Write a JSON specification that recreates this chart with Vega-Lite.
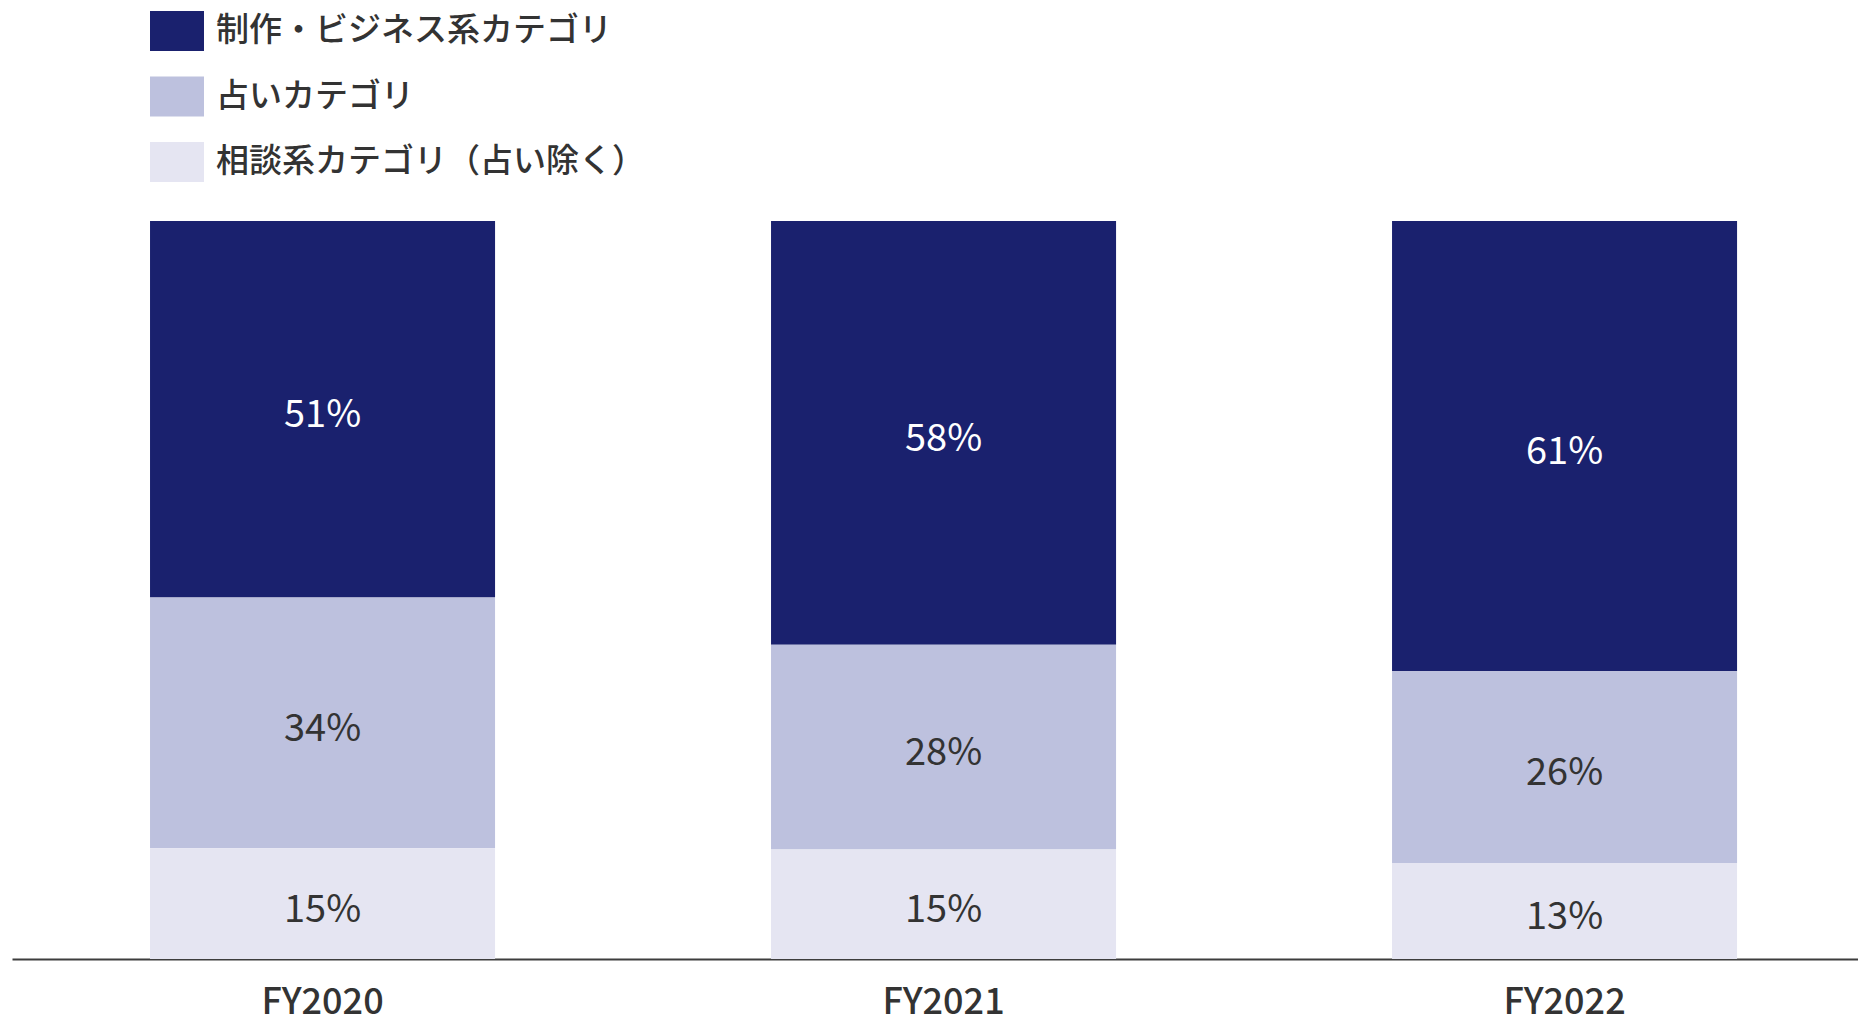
{
  "$schema": "https://vega.github.io/schema/vega-lite/v6.json",
  "autosize": {"type": "none"},
  "width": 1846,
  "height": 738,
  "padding": {"left": 12, "top": 221, "right": 0, "bottom": 58},
  "background": "white",
  "config": {
    "view": {"stroke": null},
    "font": "Noto Sans CJK JP"
  },
  "data": {
    "values": [
      {"year": "FY2020", "category": "制作・ビジネス系カテゴリ", "value": 51, "label": "51%", "rank": 3},
      {"year": "FY2020", "category": "占いカテゴリ", "value": 34, "label": "34%", "rank": 2},
      {"year": "FY2020", "category": "相談系カテゴリ（占い除く）", "value": 15, "label": "15%", "rank": 1},
      {"year": "FY2021", "category": "制作・ビジネス系カテゴリ", "value": 58, "label": "58%", "rank": 3},
      {"year": "FY2021", "category": "占いカテゴリ", "value": 28, "label": "28%", "rank": 2},
      {"year": "FY2021", "category": "相談系カテゴリ（占い除く）", "value": 15, "label": "15%", "rank": 1},
      {"year": "FY2022", "category": "制作・ビジネス系カテゴリ", "value": 61, "label": "61%", "rank": 3},
      {"year": "FY2022", "category": "占いカテゴリ", "value": 26, "label": "26%", "rank": 2},
      {"year": "FY2022", "category": "相談系カテゴリ（占い除く）", "value": 13, "label": "13%", "rank": 1}
    ]
  },
  "encoding": {
    "x": {
      "field": "year",
      "type": "nominal",
      "sort": null,
      "scale": {"paddingInner": 0.4444, "paddingOuter": 0.2085, "align": 0.533},
      "axis": {
        "title": null,
        "labelAngle": 0,
        "ticks": false,
        "grid": false,
        "domainColor": "#3d3d3d",
        "domainWidth": 2,
        "labelFontSize": 36,
        "labelFontWeight": 500,
        "labelColor": "#333333",
        "labelPadding": 26
      }
    }
  },
  "layer": [
    {
      "mark": {"type": "bar"},
      "encoding": {
        "y": {"field": "value", "type": "quantitative", "stack": "normalize", "axis": null},
        "color": {
          "field": "category",
          "type": "nominal",
          "scale": {
            "domain": ["制作・ビジネス系カテゴリ", "占いカテゴリ", "相談系カテゴリ（占い除く）"],
            "range": ["#1a216e", "#bdc1de", "#e5e5f2"]
          },
          "legend": {
            "title": null,
            "orient": "none",
            "legendX": 138,
            "legendY": -217,
            "padding": 0,
            "symbolType": "M-1,-0.74H1V0.74H-1Z",
            "symbolSize": 2916,
            "symbolStrokeWidth": 0,
            "symbolOpacity": 1,
            "labelFontSize": 33,
            "labelFontWeight": 500,
            "labelColor": "#333333",
            "labelOffset": 12,
            "rowPadding": 18.5,
            "labelLimit": 600
          }
        },
        "order": {"field": "rank", "type": "quantitative"}
      }
    },
    {
      "mark": {"type": "text", "fontSize": 38, "fontWeight": 400, "baseline": "middle", "align": "center", "dy": 7},
      "encoding": {
        "y": {"field": "value", "type": "quantitative", "stack": "normalize", "bandPosition": 0.5},
        "detail": {"field": "category"},
        "order": {"field": "rank", "type": "quantitative"},
        "text": {"field": "label"},
        "color": {
          "condition": {"test": "datum.category === '制作・ビジネス系カテゴリ'", "value": "#ffffff"},
          "value": "#333333"
        }
      }
    }
  ]
}
